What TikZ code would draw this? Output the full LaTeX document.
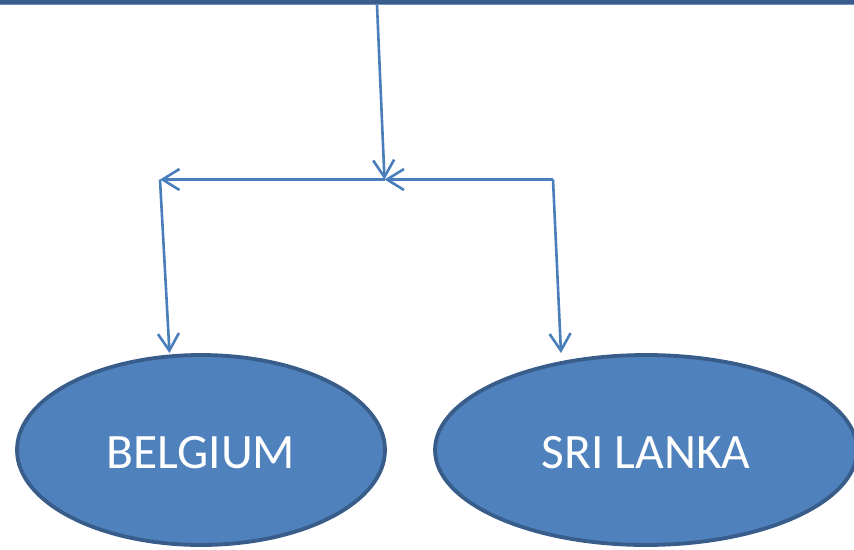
\documentclass[tikz,border=0pt]{standalone}
\usepackage{fontspec}
\setmainfont{Carlito}
\usetikzlibrary{arrows.meta,shapes.geometric}
\definecolor{shapefill}{HTML}{4F81BD}
\definecolor{shapeedge}{HTML}{385D8A}
\definecolor{linkblue}{HTML}{4A7EBB}
\definecolor{baredge}{HTML}{6F90BD}
\tikzset{
  country/.style={ellipse, fill=shapefill, draw=shapeedge, line width=3.8pt,
    text=white, font=\fontsize{49.5}{54}\selectfont, inner sep=0pt,
    text height=36pt, text depth=0pt},
  link/.style={draw=linkblue, line width=2.6pt,
    -{Straight Barb[length=17pt,width=21pt,line width=2.6pt]}}
}
\begin{document}
\begin{tikzpicture}[x=1pt,y=-1pt]
\useasboundingbox (0,0) rectangle (854,549);
% header band across the top
\fill[shapeedge] (0,-2) rectangle (854,4.3);
\draw[baredge, line width=1pt] (0,4.8) -- (854,4.8);
\coordinate (bar) at (377,5);
% junction points of the connector tree
\coordinate (mid) at (384.5,179.5);
\coordinate (leftc) at (160,179.5);
\coordinate (rightc) at (553,179.5);
% country ellipses
\node[country, minimum width=368pt, minimum height=190pt] (belgium) at (201,450) {BELGIUM};
\node[country, minimum width=422pt, minimum height=190pt] (srilanka) at (646,450) {SRI LANKA};
\coordinate (btop) at (169.5,353);
\coordinate (stop) at (561,353);
% connectors
\draw[link] (bar) -- (mid);
\draw[link] (rightc) -- (mid);
\draw[link] (mid) -- (leftc);
\draw[link] (leftc) -- (btop);
\draw[link] (rightc) -- (stop);
\end{tikzpicture}
\end{document}
